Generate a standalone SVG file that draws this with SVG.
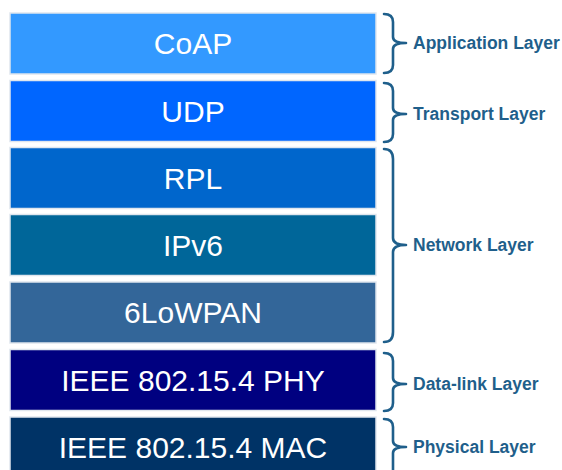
<svg xmlns="http://www.w3.org/2000/svg" width="562" height="470" viewBox="0 0 562 470">
<style>
.box{stroke:#dfe6ee;stroke-width:1.5}
.t{font-family:"Liberation Sans",Arial,sans-serif;font-size:30px;fill:#ffffff;text-anchor:middle}
.lab{font-family:"Liberation Sans",Arial,sans-serif;font-size:17.5px;font-weight:bold;fill:#1f5f8b}
.br{fill:none;stroke:#1f5f8b;stroke-width:2.6;stroke-linejoin:round;stroke-linecap:round}
</style>
<rect width="562" height="470" fill="#ffffff"/>
<g id="coap"><rect class="box" x="10" y="13" width="366" height="61" fill="#3399ff"/><text class="t" x="193" y="54">CoAP</text></g>
<g id="udp"><rect class="box" x="10" y="80.5" width="366" height="61" fill="#0066ff"/><text class="t" x="193" y="121.5">UDP</text></g>
<g id="rpl"><rect class="box" x="10" y="147.5" width="366" height="61" fill="#0066cc"/><text class="t" x="193" y="188.5">RPL</text></g>
<g id="ipv6"><rect class="box" x="10" y="214.5" width="366" height="61" fill="#006699"/><text class="t" x="193" y="255.5">IPv6</text></g>
<g id="sixlowpan"><rect class="box" x="10" y="282" width="366" height="61" fill="#336699"/><text class="t" x="193" y="323">6LoWPAN</text></g>
<g id="phy"><rect class="box" x="10" y="349.5" width="366" height="61" fill="#000080"/><text class="t" x="193" y="391">IEEE 802.15.4 PHY</text></g>
<g id="mac"><rect class="box" x="10" y="417" width="366" height="61" fill="#003366"/><text class="t" x="193" y="458">IEEE 802.15.4 MAC</text></g>
<g id="braces">
<path class="br" d="M384,14 Q393,14 393,22 L393,37 Q393,43 406,43 Q393,43 393,49 L393,65 Q393,73 384,73"/>
<path class="br" d="M384,83 Q393,83 393,91 L393,108 Q393,114 406,114 Q393,114 393,120 L393,134 Q393,142 384,142"/>
<path class="br" d="M384,149 Q393,149 393,159 L393,238 Q393,245 406,245 Q393,245 393,252 L393,332 Q393,342 384,342"/>
<path class="br" d="M384,353 Q393,353 393,361 L393,378 Q393,384 406,384 Q393,384 393,390 L393,403 Q393,411 384,411"/>
<path class="br" d="M384,419 Q393,419 393,427 L393,441 Q393,447 406,447 Q393,447 393,453 L393,475"/>
</g>
<g id="labels">
<text class="lab" x="413" y="49">Application Layer</text>
<text class="lab" x="413" y="120">Transport Layer</text>
<text class="lab" x="413" y="251">Network Layer</text>
<text class="lab" x="413" y="390">Data-link Layer</text>
<text class="lab" x="413" y="453">Physical Layer</text>
</g>
</svg>
